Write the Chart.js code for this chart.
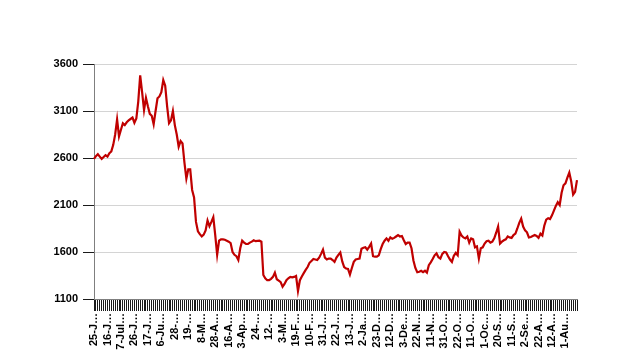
<!DOCTYPE html>
<html>
<head>
<meta charset="utf-8">
<script src="https://cdn.jsdelivr.net/npm/chart.js@4/dist/chart.umd.min.js"></script>
<style>
  html, body { margin: 0; padding: 0; background: #fff; }
  #wrap { width: 620px; height: 364px; position: relative; }
</style>
</head>
<body>
<div id="wrap"><canvas id="myChart"></canvas></div>
<script>
// tick labels, one every 7 points (as they show, cut off)
const tickLabels = [
    "25-J…", "16-J…", "7-Jul…", "26-J…", "17-J…", "6-Ju…", "28-…", "19-…", "8-M…",
    "28-A…", "16-A…", "3-Ap…", "24-…", "12-…", "3-M…", "19-F…", "10-F…", "31-J…",
    "22-J…", "13-J…", "2-Ja…", "23-D…", "12-D…", "3-De…", "22-N…", "11-N…", "31-O…",
    "22-O…", "11-O…", "1-Oc…", "20-S…", "11-S…", "2-Se…", "22-A…", "12-A…", "1-Au…"
];
const labelEvery = 7;

const prices = [
    2590, 2620, 2640, 2615, 2590, 2610, 2630, 2615, 2650, 2670,
    2740, 2850, 3010, 2830, 2900, 2970, 2950, 2980, 3000, 3015,
    3030, 2975, 3020, 3200, 3480, 3300, 3110, 3240, 3150, 3070,
    3050, 2960, 3100, 3235, 3255, 3300, 3430, 3370, 3150, 2970,
    3000, 3100, 2950, 2850, 2720, 2780, 2755, 2550, 2380, 2480,
    2480, 2260, 2180, 1920, 1820, 1790, 1765, 1785, 1830, 1935,
    1875, 1920, 1970, 1780, 1570, 1720, 1735, 1735, 1730, 1720,
    1710, 1695, 1600, 1570, 1555, 1515, 1640, 1720, 1700, 1685,
    1685, 1700, 1710, 1725, 1715, 1718, 1720, 1710, 1355, 1320,
    1300, 1300, 1315, 1335, 1380, 1310, 1295, 1280, 1230, 1260,
    1300, 1320, 1335, 1330, 1335, 1345, 1185, 1300, 1340, 1375,
    1410, 1440, 1485, 1505, 1525, 1520, 1515, 1540, 1580, 1625,
    1540, 1520, 1530, 1530, 1515, 1495, 1540, 1570, 1595, 1500,
    1440, 1425, 1420, 1360, 1430, 1495, 1520, 1525, 1530, 1635,
    1645, 1650, 1625, 1655, 1690, 1555, 1550, 1550, 1565, 1630,
    1685, 1720, 1745, 1720, 1755, 1740, 1750, 1765, 1780, 1765,
    1770, 1725, 1685, 1700, 1700, 1640, 1510, 1430, 1385, 1390,
    1400, 1385, 1400, 1380, 1460, 1490, 1525, 1565, 1585, 1545,
    1530, 1580, 1600, 1595, 1555, 1520, 1495, 1560, 1590, 1565,
    1815, 1775, 1755, 1745, 1765, 1700, 1745, 1735, 1650, 1660,
    1530, 1640, 1650, 1690, 1715, 1720, 1700, 1710, 1745, 1805,
    1870, 1690, 1710, 1725, 1735, 1765, 1755, 1750, 1780, 1795,
    1850, 1910, 1955, 1870, 1830, 1810, 1755, 1760, 1770, 1780,
    1770, 1750, 1795, 1775, 1880, 1945, 1960, 1950, 1990, 2040,
    2090, 2130, 2100, 2230, 2310, 2330, 2390, 2445, 2350, 2210,
    2240, 2365
];

const yMin = 1100;
const yMax = 3600;
const yStep = 500;

// one category per point, named only where a tick label sits
const categories = prices.map(function(v, i) {
    return (i % labelEvery == 0 && tickLabels[i / labelEvery]) ? tickLabels[i / labelEvery] : "";
});

const labelFont = { family: "'Liberation Sans', Arial, sans-serif", size: 11, weight: "bold" };

const data = {
    labels: categories,
    datasets: [{
        data: prices,
        borderColor: "#c00000",
        borderWidth: 2.2,
        pointRadius: 0,
        tension: 0,
        fill: false,
    }],
};

const config = {
    type: 'line',
    data: data,
    options: {
        responsive: true,
        maintainAspectRatio: false,
        animation: false,
        layout: {
            padding: { top: 64, right: 43, bottom: 0, left: 0 },
        },
        plugins: {
            legend: { display: false },
            tooltip: { enabled: false },
        },
        scales: {
            x: {
                offset: false,
                grid: {
                    drawOnChartArea: false,
                    tickLength: 12,
                    color: "#1a1a1a",
                    tickColor: "#1a1a1a",
                    lineWidth: 1,
                },
                border: { color: "#7f7f7f", width: 1 },
                ticks: {
                    autoSkip: false,
                    minRotation: 90,
                    maxRotation: 90,
                    padding: 2,
                    color: "#000",
                    font: labelFont,
                    callback: function(val, idx) {
                        return this.getLabelForValue(val);
                    },
                },
                afterFit: function(scale) { scale.height = 65; },
            },
            y: {
                min: yMin,
                max: yMax,
                grid: {
                    color: "#d4d4d4",
                    tickColor: "#1a1a1a",
                    tickLength: 11,
                    lineWidth: 1,
                },
                border: { color: "#7f7f7f", width: 1 },
                ticks: {
                    stepSize: yStep,
                    padding: 5,
                    color: "#000",
                    font: labelFont,
                    callback: function(val) { return String(val); },
                },
                afterFit: function(scale) { scale.width = 94; },
            },
        },
    },
};

const myChart = new Chart(
    document.getElementById('myChart'),
    config,
);
</script>
</body>
</html>
